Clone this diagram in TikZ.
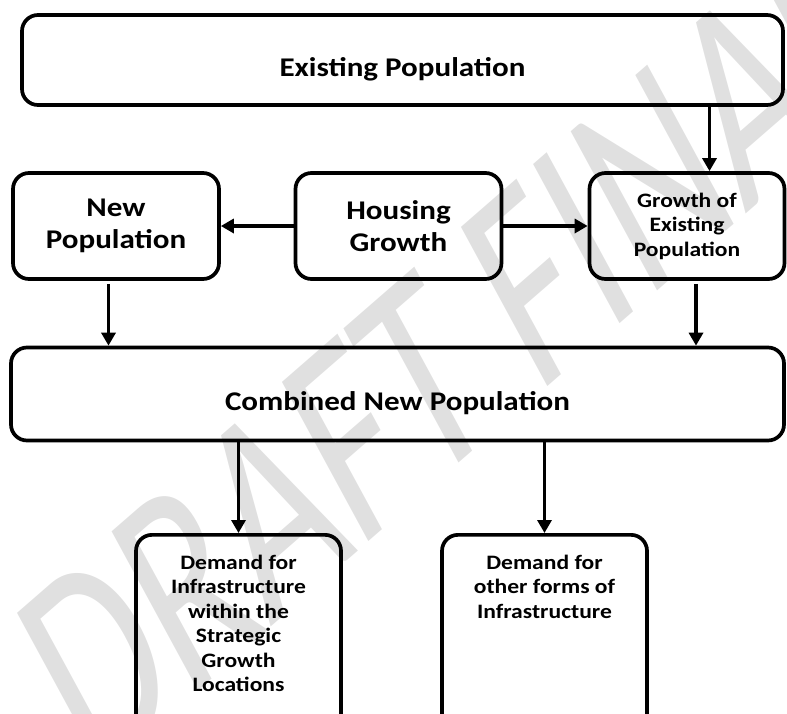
\documentclass[tikz,border=0pt]{standalone}
\usepackage{fontspec}
\setmainfont{Carlito}[FakeStretch=1.15]
\newfontfamily\markfont{Carlito}[FakeStretch=0.78]
\usetikzlibrary{arrows.meta}

\newcommand{\bigtxt}{\bfseries\fontsize{27}{32}\selectfont}
\newcommand{\smalltxt}{\bfseries\fontsize{20.5}{24.5}\selectfont}

\tikzset{
  box/.style={draw, line width=3.7pt, rounded corners=16pt, align=center, inner sep=0pt},
  arr/.style={line width=3.7pt, -{Triangle[width=14pt,length=13pt]}},
}

\begin{document}
\begin{tikzpicture}[x=1pt, y=-1pt]
\useasboundingbox (0,0) rectangle (787,713);
\clip (0,0) rectangle (787,713);

% watermark goes first so the boxes sit on top
\node[text=black!12, font=\markfont\fontsize{301}{301}\selectfont, inner sep=0pt,
  anchor=base west, xscale=0.79, rotate=34.5] (mark) at (93,782) {DRAFT FINAL};

\node[box, font=\bigtxt, text height=32pt, text depth=0pt, minimum width=761pt, minimum height=90pt] (exist) at (402.5,60) {Existing Population};

\node[box, font=\bigtxt, minimum width=206pt, minimum height=106pt] (newpop) at (116,226) {New\\Population};
\node[box, font=\bigtxt, minimum width=206pt, minimum height=106pt] (housing) at (398.5,226) {Housing\\Growth};
\node[box, font=\smalltxt, minimum width=195pt, minimum height=106pt] (growth) at (687,226) {Growth of\\Existing\\Population};

\node[box, font=\bigtxt, text height=32pt, text depth=0pt, minimum width=773pt, minimum height=93pt] (combined) at (397.5,394) {Combined New Population};

% bottom boxes run off the page
\node[box, font=\smalltxt, anchor=north, inner ysep=20pt] (infsgl) at (238.5,533)
  {\parbox[t][190pt][t]{205pt}{\centering Demand for\\Infrastructure\\within the\\Strategic\\Growth\\Locations}};
\node[box, font=\smalltxt, anchor=north, inner ysep=20pt] (infoth) at (544.5,533)
  {\parbox[t][190pt][t]{205pt}{\centering Demand for\\other forms of\\Infrastructure}};

\coordinate (c1) at (709.5,0);
\coordinate (c2) at (108.5,0);
\coordinate (c3) at (696,0);

\draw[arr] (exist.south -| c1) -- (growth.north -| c1);
\draw[arr] (housing.west) -- (newpop.east);
\draw[arr] (housing.east) -- (growth.west);
\draw[arr] ([yshift=-3pt]newpop.south -| c2) -- (combined.north -| c2);
\draw[arr] ([yshift=-3pt]growth.south -| c3) -- (combined.north -| c3);
\draw[arr] (combined.south -| infsgl.north) -- (infsgl.north);
\draw[arr] (combined.south -| infoth.north) -- (infoth.north);
\end{tikzpicture}
\end{document}
